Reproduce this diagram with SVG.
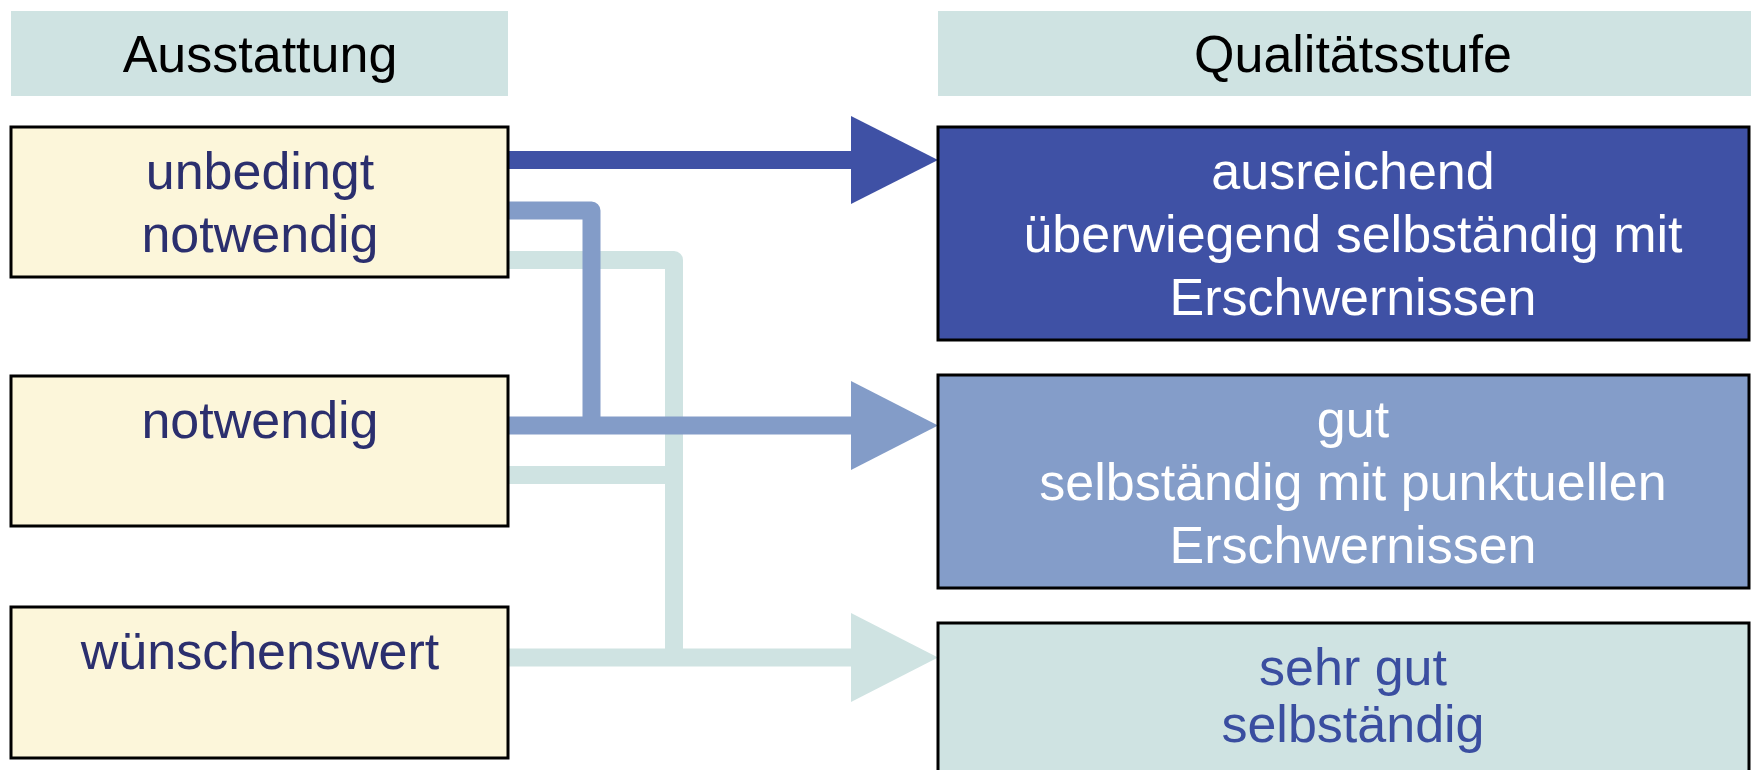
<svg xmlns="http://www.w3.org/2000/svg" width="1751" height="770" viewBox="0 0 1751 770">
<style>
.hdr{fill:#CFE3E2}
.lbox{fill:#FCF6DA;stroke:#000;stroke-width:3}
.rbox{stroke:#000;stroke-width:3}
text{font-family:"Liberation Sans",Arial,sans-serif;font-size:52px;text-anchor:middle}
.ht{fill:#000}
.lt{fill:#2B2F6E}
.wt{fill:#fff}
.bt{fill:#3A4EA0}
.c{fill:none;stroke-width:18;stroke-linejoin:round;stroke-linecap:butt}
</style>
<rect width="1751" height="770" fill="#fff"/>
<g id="connectors">
  <path class="c" stroke="#CFE3E2" d="M508,260 H674 V657.5"/>
  <path class="c" stroke="#CFE3E2" d="M508,475 H674"/>
  <path class="c" stroke="#CFE3E2" d="M508,657.5 H853"/>
  <polygon fill="#CFE3E2" points="851,613 938,657.5 851,702"/>
  <path class="c" stroke="#839CC8" d="M508,210.5 H591.5 V426"/>
  <path class="c" stroke="#839CC8" d="M508,425.5 H853"/>
  <polygon fill="#839CC8" points="851,381 938,425.5 851,470"/>
  <path class="c" stroke="#3F51A5" d="M508,160 H853"/>
  <polygon fill="#3F51A5" points="851,116 938,160 851,204"/>
</g>
<g id="header-ausstattung">
  <rect class="hdr" x="11" y="11" width="497" height="85"/>
  <text class="ht" x="260" y="72">Ausstattung</text>
</g>
<g id="header-qualitaetsstufe">
  <rect class="hdr" x="938" y="11" width="813" height="85"/>
  <text class="ht" x="1353" y="72">Qualitätsstufe</text>
</g>
<g id="node-unbedingt">
  <rect class="lbox" x="11" y="127" width="497" height="150"/>
  <text class="lt" x="260" y="189">unbedingt</text>
  <text class="lt" x="260" y="252">notwendig</text>
</g>
<g id="node-notwendig">
  <rect class="lbox" x="11" y="376" width="497" height="150"/>
  <text class="lt" x="260" y="438">notwendig</text>
</g>
<g id="node-wuenschenswert">
  <rect class="lbox" x="11" y="607" width="497" height="151"/>
  <text class="lt" x="260" y="669">wünschenswert</text>
</g>
<g id="node-ausreichend">
  <rect class="rbox" fill="#3F51A5" x="938" y="127" width="811" height="213"/>
  <text class="wt" x="1353" y="189">ausreichend</text>
  <text class="wt" x="1353" y="252">überwiegend selbständig mit</text>
  <text class="wt" x="1353" y="315">Erschwernissen</text>
</g>
<g id="node-gut">
  <rect class="rbox" fill="#849DC9" x="938" y="375" width="811" height="213"/>
  <text class="wt" x="1353" y="437">gut</text>
  <text class="wt" x="1353" y="500">selbständig mit punktuellen</text>
  <text class="wt" x="1353" y="563">Erschwernissen</text>
</g>
<g id="node-sehr-gut">
  <rect class="rbox" fill="#CFE3E2" x="938" y="623" width="811" height="170"/>
  <text class="bt" x="1353" y="685">sehr gut</text>
  <text class="bt" x="1353" y="742">selbständig</text>
</g>
</svg>
